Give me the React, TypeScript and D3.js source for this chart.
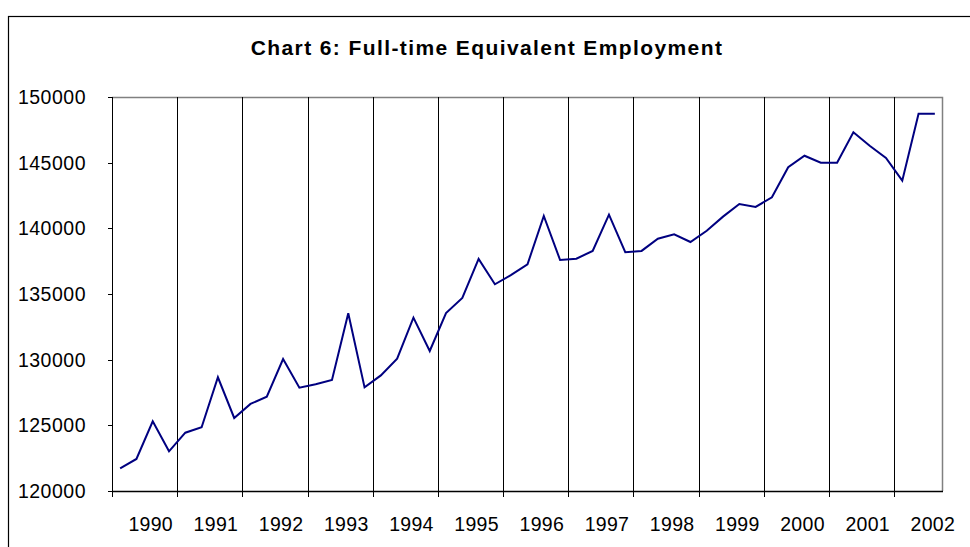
import React, { useEffect, useRef } from 'react';
import * as d3 from 'd3';

// quarterly FTE employment, 1990 Q1 .. 2002 Q3
const years = [1990, 1991, 1992, 1993, 1994, 1995, 1996, 1997, 1998, 1999, 2000, 2001, 2002];
const quartersPerYear = [4, 4, 4, 4, 4, 4, 4, 4, 4, 4, 4, 4, 3];
const employment = [
  121730, 122440, 125310, 123020, 124440, 124850, 128660, 125560, 126630, 127180,
  130050, 127870, 128130, 128450, 133530, 127890, 128800, 130080, 133200, 130660,
  133550, 134700, 137670, 135740, 136450, 137260, 140940, 137590, 137690, 138280,
  141040, 138180, 138280, 139210, 139550, 138960, 139820, 140890, 141850, 141630,
  142360, 144650, 145530, 145000, 145000, 147310, 146290, 145360, 143630, 148730,
  148730,
];
const yTicks = [120000, 125000, 130000, 135000, 140000, 145000, 150000];
const title = 'Chart 6: Full-time Equivalent Employment';

const categories: string[] = [];
years.forEach((yr, i) => {
  for (let q = 1; q <= quartersPerYear[i]; q++) categories.push(`${yr} Q${q}`);
});

const App = () => {
  const svgRef = useRef<SVGSVGElement>(null);

  useEffect(() => {
    const width = 970;
    const height = 547;
    const margin = { top: 97, right: 27, bottom: 56, left: 112 };
    const font = '"Liberation Sans", Arial, sans-serif';

    const svg = d3.select(svgRef.current)
      .attr('width', width)
      .attr('height', height);
    svg.selectAll('*').remove();

    const x = d3.scaleBand<string>()
      .domain(categories)
      .range([margin.left, width - margin.right])
      .padding(0);

    const y = d3.scaleLinear()
      .domain([120000, 150000])
      .range([height - margin.bottom, margin.top]);

    // chart area border
    svg.append('rect')
      .attr('x', 8.5).attr('y', 16.5)
      .attr('width', 1000).attr('height', 600)
      .attr('fill', 'white')
      .attr('stroke', '#000')
      .attr('stroke-width', 1.2);

    svg.append('text')
      .attr('x', 487).attr('y', 55)
      .attr('text-anchor', 'middle')
      .attr('font-family', font)
      .attr('font-weight', 'bold')
      .attr('font-size', 21)
      .attr('letter-spacing', 1.4)
      .text(title);

    const x0 = x.range()[0];
    const x1 = x.range()[1];
    const yBottom = y(120000);
    const yTop = y(150000);

    // plot area frame (gray top/right)
    svg.append('path')
      .attr('d', `M${x0},${yTop + 0.5}H${x1 - 0.5}V${yBottom}`)
      .attr('fill', 'none')
      .attr('stroke', '#808080')
      .attr('stroke-width', 1.5);

    // year boundary gridlines and ticks
    const boundaries = categories.filter((c, i) => i % 4 === 0).map(c => x(c)!);
    svg.append('g')
      .selectAll('line')
      .data(boundaries.slice(1))
      .join('line')
      .attr('x1', d => Math.round(d) + 0.5).attr('x2', d => Math.round(d) + 0.5)
      .attr('y1', yTop).attr('y2', yBottom)
      .attr('stroke', '#000')
      .attr('stroke-width', 1);

    svg.append('g')
      .selectAll('line')
      .data(boundaries)
      .join('line')
      .attr('x1', d => Math.round(d) + 0.5).attr('x2', d => Math.round(d) + 0.5)
      .attr('y1', yBottom).attr('y2', yBottom + 6)
      .attr('stroke', '#000');

    // y axis
    svg.append('line')
      .attr('x1', x0 + 0.5).attr('x2', x0 + 0.5)
      .attr('y1', yTop).attr('y2', yBottom)
      .attr('stroke', '#000');
    const yAxis = svg.append('g');
    yAxis.selectAll('line')
      .data(yTicks)
      .join('line')
      .attr('x1', x0 - 4).attr('x2', x0)
      .attr('y1', d => Math.round(y(d)) + 0.5).attr('y2', d => Math.round(y(d)) + 0.5)
      .attr('stroke', '#000');
    yAxis.selectAll('text')
      .data(yTicks)
      .join('text')
      .attr('x', x0 - 26)
      .attr('y', d => y(d))
      .attr('dy', '0.36em')
      .attr('text-anchor', 'end')
      .attr('font-family', font)
      .attr('font-size', 19.5)
      .attr('letter-spacing', 0.5)
      .text(d => String(d));

    // x axis
    svg.append('line')
      .attr('x1', x0).attr('x2', x1)
      .attr('y1', Math.round(yBottom) + 0.5).attr('y2', Math.round(yBottom) + 0.5)
      .attr('stroke', '#000')
      .attr('stroke-width', 1.3);

    svg.append('g')
      .selectAll('text')
      .data(years)
      .join('text')
      .attr('x', d => x(`${d} Q3`)! + x.bandwidth() / 2 - 2)
      .attr('y', yBottom + 40)
      .attr('text-anchor', 'middle')
      .attr('font-family', font)
      .attr('font-size', 19.5)
      .attr('letter-spacing', 0.3)
      .text(d => String(d));

    // series
    const line = d3.line<number>()
      .x((d, i) => x(categories[i])! + x.bandwidth() / 2)
      .y(d => y(d));

    svg.append('path')
      .datum(employment)
      .attr('d', line)
      .attr('fill', 'none')
      .attr('stroke', '#000080')
      .attr('stroke-width', 2)
      .attr('stroke-linejoin', 'miter');
  }, []);

  return (
    <svg ref={svgRef} style={{ position: 'absolute', left: 0, top: 0, display: 'block' }} />
  );
};

export default App;
